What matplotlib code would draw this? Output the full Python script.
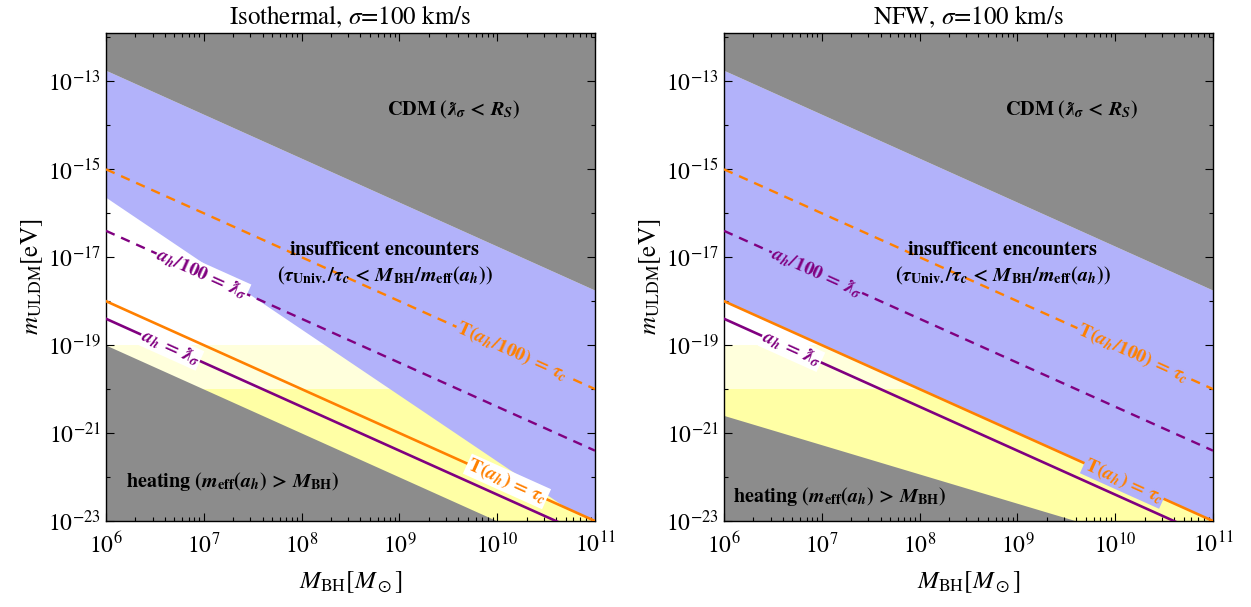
import numpy as np
import matplotlib.pyplot as plt
from matplotlib.ticker import FixedLocator, NullFormatter

plt.rcParams['font.family'] = ['STIXGeneral', 'DejaVu Serif']
plt.rcParams['mathtext.fontset'] = 'stix'

# line end points at M_BH = 1e6 and 1e11 (log10 of m_ULDM in eV)
mass = [1e6, 1e11]
cdm_edge = [-12.75, -17.75]
tau_c_line = [-18.0, -23.0]            # T(a_h) = tau_c
tau_c_100_line = [-15.0, -20.0]        # T(a_h/100) = tau_c
lambda_line = [-18.4, -23.4]           # a_h = lambdabar_sigma
lambda_100_line = [-16.4, -21.4]       # a_h/100 = lambdabar_sigma
heating_iso = [-19.0, -24.0]
heating_nfw = [-20.6, -23.93]

# lower edge of "insufficient encounters" region, isothermal case
enc_iso_mass = [1e6, 10**10.72, 1e11]
enc_iso_edge = [-15.64, -22.72, -23.0]
enc_iso_top = [-12.75, -17.47, -17.75]

band_pale = [-20, -19]
band_yellow = [-24, -20]

# label positions: (log10 M, log10 m)
lab_pos = {
    'iso': {'l100': (6.98, -17.38), 'l1': (6.66, -19.06), 't100': (10.15, -19.15), 't1': (10.1, -22.1)},
    'nfw': {'l100': (6.95, -17.35), 'l1': (6.69, -19.09), 't100': (10.18, -19.18), 't1': (10.09, -22.09)},
}

gray = '#8c8c8c'
blue = '#b2b2fa'
pale = '#ffffdc'
yellow = '#ffffa5'
orange = '#ff8000'
purple = '#800080'

ymin, ymax = 1e-23, 10**-11.9


def p10(v):
    return 10.0**np.array(v)


fig = plt.figure(figsize=(12.51, 6.07), dpi=100)
ax_l = fig.add_axes([106/1251, 86/607, 489/1251, 488/607])
ax_r = fig.add_axes([724/1251, 86/607, 489/1251, 488/607])

ang = -np.degrees(np.arctan((488/np.log10(ymax/ymin)) / (489/5)))

for ax, kind in [(ax_l, 'iso'), (ax_r, 'nfw')]:
    ax.set_xscale('log')
    ax.set_yscale('log')
    ax.set_xlim(1e6, 1e11)
    ax.set_ylim(ymin, ymax)

    ax.axhspan(*p10(band_pale), color=pale, lw=0, zorder=0)
    ax.axhspan(*p10(band_yellow), color=yellow, lw=0, zorder=0)

    if kind == 'iso':
        ax.fill_between(enc_iso_mass, p10(enc_iso_edge), p10(enc_iso_top),
                        color=blue, lw=0, zorder=1)
        ax.fill_between(mass, 1e-25, p10(heating_iso), color=gray, lw=0, zorder=1)
    else:
        ax.fill_between(mass, p10(tau_c_line), p10(cdm_edge), color=blue, lw=0, zorder=1)
        ax.fill_between(mass, 1e-25, p10(heating_nfw), color=gray, lw=0, zorder=1)
    ax.fill_between(mass, p10(cdm_edge), 1e-10, color=gray, lw=0, zorder=1)

    ax.plot(mass, p10(tau_c_line), color=orange, lw=1.9, zorder=3)
    ax.plot(mass, p10(lambda_line), color=purple, lw=1.9, zorder=3)
    ax.plot(mass, p10(tau_c_100_line), color=orange, lw=1.7, ls=(0, (4, 3)), zorder=3)
    ax.plot(mass, p10(lambda_100_line), color=purple, lw=1.7, ls=(0, (4, 3)), zorder=3)

    pos = lab_pos[kind]
    bg = 'white' if kind == 'iso' else blue
    lab_kw = dict(ha='center', va='center', rotation=ang, rotation_mode='anchor',
                  fontsize=14, zorder=5)
    x, y = pos['l100']
    ax.text(10**x, 10**y, r'$\mathbfit{a_h}\mathbf{/100}\,\mathbf{=}\,\mathbfit{ƛ_\sigma}$', color=purple,
            bbox=dict(facecolor=bg, edgecolor='none', pad=0.5), **lab_kw)
    x, y = pos['l1']
    ax.text(10**x, 10**y, r'$\mathbfit{a_h}\,\mathbf{=}\,\mathbfit{ƛ_\sigma}$', color=purple,
            bbox=dict(facecolor='white', edgecolor='none', pad=0.5), **lab_kw)
    x, y = pos['t100']
    ax.text(10**x, 10**y, r'$\mathbf{T(}\mathbfit{a_h}\mathbf{/100)}\,\mathbf{=}\,\mathbfit{\tau_c}$', color=orange,
            bbox=dict(facecolor=blue, edgecolor='none', pad=0.5), **lab_kw)
    x, y = pos['t1']
    ax.text(10**x, 10**y, r'$\mathbf{T(}\mathbfit{a_h}\mathbf{)}\,\mathbf{=}\,\mathbfit{\tau_c}$', color=orange,
            bbox=dict(facecolor=bg, edgecolor='none', pad=0.5), **lab_kw)

    # region labels (axes coordinates)
    ax.text(0.712, 0.843, r'$\mathbf{CDM\ (}\mathbfit{ƛ_\sigma}\,\mathbf{<}\,\mathbfit{R_S}\mathbf{)}$',
            transform=ax.transAxes, ha='center', va='center', fontsize=14.5, zorder=6)
    ax.text(0.57, 0.556, r'$\mathbf{insufficent\ encounters}$',
            transform=ax.transAxes, ha='center', va='center', fontsize=14.5, zorder=6)
    ax.text(0.57, 0.502,
            r'$\mathbf{(}\mathbfit{\tau}_{\mathbf{Univ.}}\mathbf{/}\mathbfit{\tau_c}\,\mathbf{<}\,'
            r'\mathbfit{M}_{\mathbf{BH}}\mathbf{/}\mathbfit{m}_{\mathbf{eff}}\mathbf{(}\mathbfit{a_h}\mathbf{))}$',
            transform=ax.transAxes, ha='center', va='center', fontsize=14.5, zorder=6)
    hy = 0.08 if kind == 'iso' else 0.05
    hx = 0.258 if kind == 'iso' else 0.237
    ax.text(hx, hy,
            r'$\mathbf{heating\ (}\mathbfit{m}_{\mathbf{eff}}\mathbf{(}\mathbfit{a_h}\mathbf{)}\,\mathbf{>}\,'
            r'\mathbfit{M}_{\mathbf{BH}}\mathbf{)}$',
            transform=ax.transAxes, ha='center', va='center', fontsize=14.5, zorder=6)

    # ticks
    ax.yaxis.set_major_locator(FixedLocator(p10([-23, -21, -19, -17, -15, -13])))
    ax.yaxis.set_minor_locator(FixedLocator(p10([-22, -20, -18, -16, -14, -12])))
    ax.yaxis.set_minor_formatter(NullFormatter())
    ax.tick_params(which='both', direction='in', top=True, right=True, labelsize=17, width=0.8)
    ax.tick_params(which='major', length=6)
    ax.tick_params(which='minor', length=3)
    ax.tick_params(axis='x', which='major', pad=8)
    for s in ax.spines.values():
        s.set_linewidth(1.0)
    ax.set_xlabel(r'$M_{\rm BH}[M_\odot]$', fontsize=18, labelpad=8)
    ax.set_ylabel(r'$m_{\rm ULDM}[{\rm eV}]$', fontsize=18, labelpad=2)

ax_l.set_title(r'Isothermal, $\sigma$=100 km/s', fontsize=18, pad=6)
ax_r.set_title(r'NFW, $\sigma$=100 km/s', fontsize=18, pad=6)

plt.savefig('out.png', dpi=100)
plt.close()
